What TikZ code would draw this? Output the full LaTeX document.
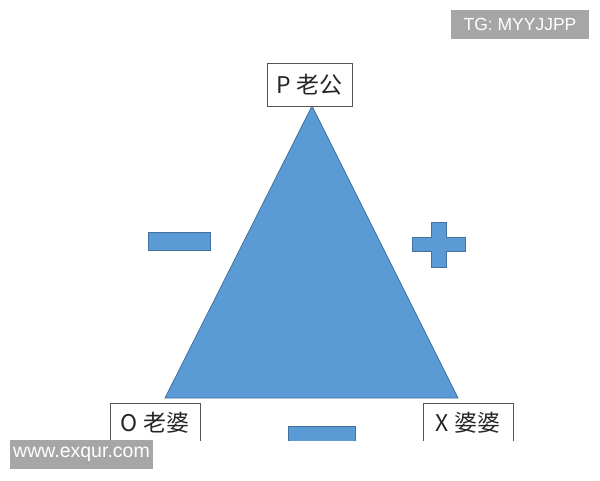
\documentclass[tikz,border=0pt]{standalone}
\usepackage{fontspec}
\newfontfamily\cjk{Noto Sans CJK SC}
\newfontfamily\wm{Liberation Sans}
\definecolor{triblue}{HTML}{5B9BD5}
\definecolor{triedge}{HTML}{41719C}
\definecolor{wmgray}{HTML}{A6A6A6}
\definecolor{boxedge}{HTML}{555555}
\tikzset{
  label box/.style={draw=boxedge, line width=0.9pt, fill=white, inner sep=0pt,
    minimum width=#1, font=\cjk\fontsize{23}{23}\selectfont, text=black!85},
  sign/.style={fill=triblue, draw=triedge, line width=0.8pt},
  watermark/.style={fill=wmgray, text=white, inner sep=0pt, font=\wm}
}
\begin{document}
\begin{tikzpicture}[x=1pt,y=-1pt]
\useasboundingbox (0,0) rectangle (600,480);
\fill[white] (0,0) rectangle (600,480);
% triangle
\coordinate (apex) at (312,106);
\coordinate (bl) at (165,398);
\coordinate (br) at (458,398);
\filldraw[fill=triblue, draw=triedge, line width=0.8pt] (apex) -- (br) -- (bl) -- cycle;
% top box
\node[label box=85pt, minimum height=43pt] (p) at (309.5,84.5) {P 老公};
% signs
\filldraw[sign] (148,232) rectangle (210,250);
\filldraw[sign] (412,237) -- (431,237) -- (431,222) -- (446,222) -- (446,237) -- (465,237)
  -- (465,251) -- (446,251) -- (446,267) -- (431,267) -- (431,251) -- (412,251) -- cycle;
\begin{scope}
\clip (0,0) rectangle (600,440);
\node[label box=90pt, minimum height=60pt, anchor=north] (o) at (155,403) {};
\node[font=\cjk\fontsize{23}{23}\selectfont, text=black!85] (ot) at (155,423) {O 老婆};
\node[label box=90pt, minimum height=60pt, anchor=north] (x) at (468,403) {};
\node[font=\cjk\fontsize{23}{23}\selectfont, text=black!85] (xt) at (468,423) {X 婆婆};
\filldraw[sign] (288,426) rectangle (355,460);
\end{scope}
% watermarks
\node[watermark, minimum width=138pt, minimum height=29pt, font=\wm\fontsize{17.5}{17.5}\selectfont] (tg) at (520,24.5) {TG: MYYJJPP};
\node[watermark, minimum width=143pt, minimum height=29pt, font=\wm\fontsize{19.5}{19.5}\selectfont] (www) at (81.5,454.5) {www.exqur.com};
\end{tikzpicture}
\end{document}
